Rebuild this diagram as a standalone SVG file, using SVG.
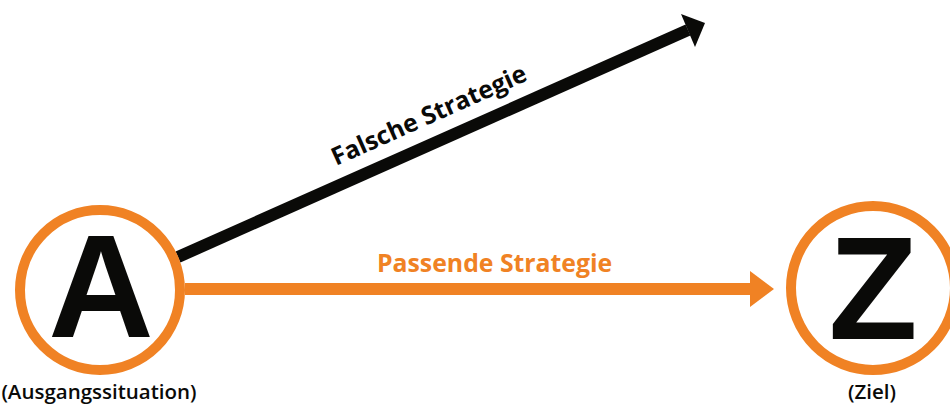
<svg xmlns="http://www.w3.org/2000/svg" width="950" height="405" viewBox="0 0 950 405">
<defs>
<style>
.ring{fill:#fff;stroke:#F08224;stroke-width:10}
.big{font-family:"Liberation Sans",Arial,sans-serif;font-weight:bold;font-size:146px;fill:#0a0a08;text-anchor:middle}
.lbl{font-family:"Open Sans","DejaVu Sans",sans-serif;font-weight:600;font-size:20.5px;fill:#0a0a08;text-anchor:middle}
.edge{font-family:"Open Sans","DejaVu Sans",sans-serif;font-weight:bold;font-size:24.8px}
</style>
</defs>
<g id="connectors">
<line x1="178" y1="257" x2="688" y2="30" stroke="#0a0a08" stroke-width="12"/>
<polygon points="705,23 681,14 695,47" fill="#0a0a08"/>
<line x1="185" y1="289" x2="755" y2="289" stroke="#F08224" stroke-width="12"/>
<polygon points="774,289 750,271 750,307" fill="#F08224"/>
<text class="edge" fill="#0a0a08" transform="translate(336,166) rotate(-24.1)">Falsche Strategie</text>
<text class="edge" fill="#F08224" x="377" y="272">Passende Strategie</text>
</g>
<g id="nodeA">
<circle class="ring" cx="100" cy="290" r="80"/>
<text class="big" x="101" y="337">A</text>
<text class="lbl" x="99" y="399">(Ausgangssituation)</text>
</g>
<g id="nodeZ">
<circle class="ring" cx="873" cy="288" r="82"/>
<text class="big" x="873" y="339">Z</text>
<text class="lbl" x="872" y="399">(Ziel)</text>
</g>
</svg>
